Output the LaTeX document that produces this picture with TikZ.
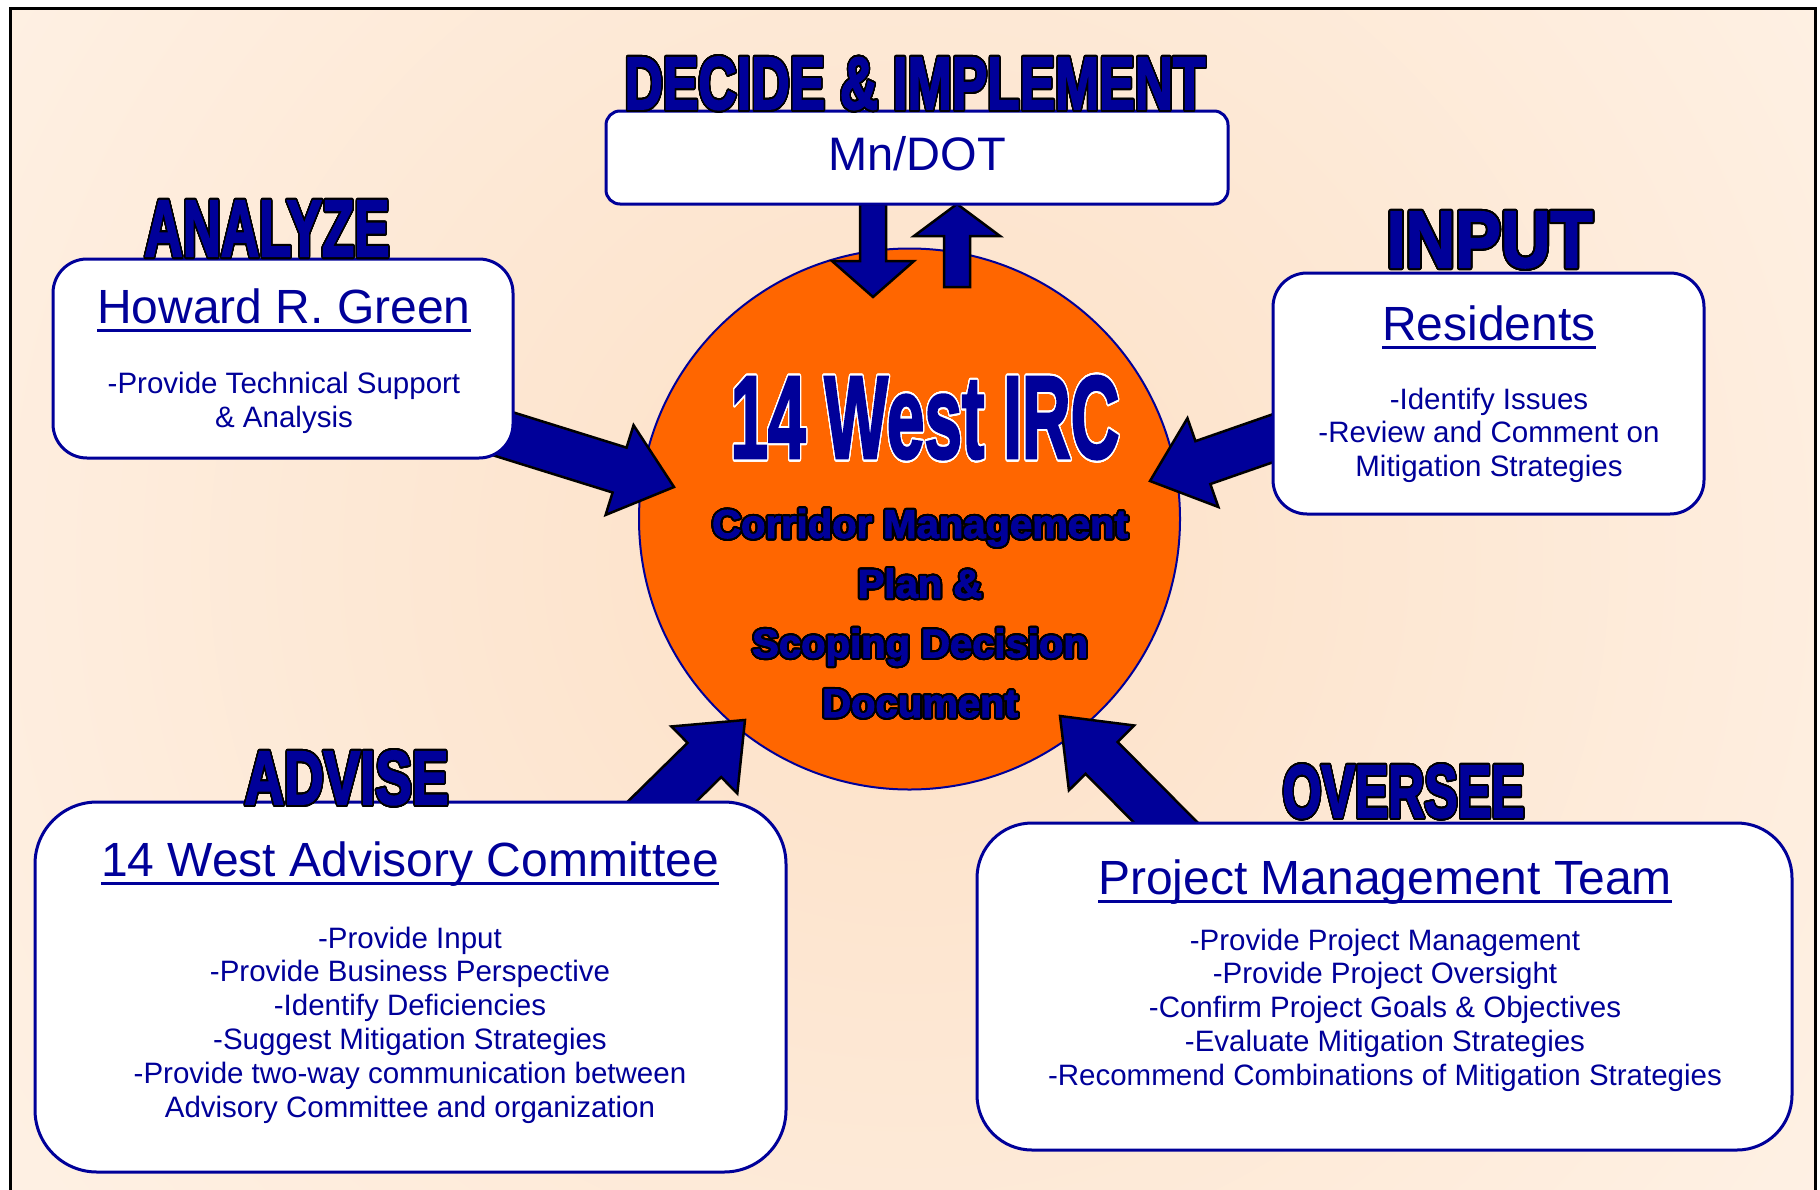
\documentclass[tikz,border=0pt]{standalone}
\usepackage{fontspec}
\setmainfont{Liberation Sans}
\newfontfamily\heavyfont{Liberation Sans Bold}[FakeBold=2.5]
\usepackage[copies]{contour}
\contourlength{2pt}
\contournumber{32}
\usetikzlibrary{calc, positioning}

\definecolor{dotblue}{RGB}{0,0,153}
\definecolor{ircorange}{RGB}{255,102,0}
\definecolor{bgpeach}{RGB}{253,224,198}
\definecolor{bgcream}{RGB}{254,245,236}

\tikzset{
  infobox/.style={
    rectangle, draw=dotblue, line width=3pt, fill=white, inner sep=0pt
  },
  hub/.style={
    circle, draw=dotblue, line width=2pt, fill=ircorange, inner sep=0pt
  },
  bigarrow/.style={
    draw=black, line width=2.5pt, fill=dotblue, line join=miter
  },
  boxtitle/.style={
    text=dotblue, inner sep=0pt, anchor=base, font=\fontsize{48}{56}\selectfont
  },
  boxbody/.style={
    text=dotblue, inner sep=0pt, anchor=base, align=center,
    font=\fontsize{29.5}{33.9}\selectfont
  },
  underbar/.style={draw=dotblue, line width=3pt},
  rolehead/.style={text=dotblue, inner sep=0pt, anchor=base}
}

% heavy outlined heading, squeezed to a given width and height
\newcommand{\rolename}[3]{\resizebox{#1pt}{#2pt}{\fontsize{76}{80}\heavyfont\contour{black}{#3}}}
\newcommand{\inked}[1]{\contour{black}{#1}}
% block arrow: from, tip, shaft half width, head half width, head length
\newcommand{\blockarrow}[5]{%
  \coordinate (hb) at ($(#2)!#5!(#1)$);
  \draw[bigarrow] ($(#1)!#3!90:(#2)$) -- ($(hb)!#3!90:(#2)$) -- ($(hb)!#4!90:(#2)$)
    -- (#2) -- ($(hb)!#4!-90:(#2)$) -- ($(hb)!#3!-90:(#2)$) -- ($(#1)!#3!-90:(#2)$) -- cycle;
}

\begin{document}
\begin{tikzpicture}[x=1pt, y=-1pt]
\useasboundingbox (0,0) rectangle (1820,1189);

% background and frame
\begin{scope}
  \clip (10,8) rectangle (1815,1200);
  \shade[inner color=bgpeach, outer color=bgcream] (909,560) circle (1400pt);
\end{scope}
\draw[line width=3pt] (10,8) rectangle (1815,1200);

\node[hub, minimum size=541pt] (irc) at (909.5,519) {};

% arrow ends
\coordinate (dot out) at (873,204);
\coordinate (dot out tip) at (873,297);
\coordinate (dot in) at (957,287);
\coordinate (dot in tip) at (957,204);
\coordinate (green out) at (469.7,423.4);
\coordinate (green tip) at (674,487);
\coordinate (res out) at (1300,428.8);
\coordinate (res tip) at (1150,481);
\coordinate (adv out) at (628,835);
\coordinate (adv tip) at (745,720);
\coordinate (pmt out) at (1195,852);
\coordinate (pmt tip) at (1060,716);

\blockarrow{dot out}{dot out tip}{13pt}{41pt}{36pt}
\blockarrow{dot in}{dot in tip}{13pt}{43pt}{32pt}
\blockarrow{green out}{green tip}{23.5pt}{47pt}{57pt}
\blockarrow{res out}{res tip}{22.7pt}{47pt}{56pt}
\blockarrow{adv out}{adv tip}{24pt}{47pt}{57pt}
\blockarrow{pmt out}{pmt tip}{22.6pt}{46pt}{59pt}

% boxes
\node[infobox, rounded corners=14pt, minimum width=622pt, minimum height=93pt] (mndot) at (917,157.5) {};
\node[infobox, rounded corners=34pt, minimum width=460pt, minimum height=199pt] (green) at (283,358.5) {};
\node[infobox, rounded corners=34pt, minimum width=431pt, minimum height=241pt] (res) at (1488.5,393.5) {};
\node[infobox, rounded corners=62pt, minimum width=751pt, minimum height=370pt] (adv) at (410.5,987) {};
\node[infobox, rounded corners=55pt, minimum width=815pt, minimum height=327pt] (pmt) at (1384.5,986.5) {};

\node[boxtitle, font=\fontsize{47}{52}\selectfont] (mndot label) at (917,170) {Mn/DOT};

% multi-line texts sit on the baseline of their last line
\node[boxtitle] (green title) at (284,323) {Howard R. Green};
\node[boxbody] (green body) at (284,427) {-Provide Technical Support\\\& Analysis};

\node[boxtitle] (res title) at (1489,340.5) {Residents};
\node[boxbody] (res body) at (1489,476.8) {-Identify Issues\\-Review and Comment on\\Mitigation Strategies};

\node[boxtitle] (adv title) at (410,876.5) {14 West Advisory Committee};
\node[boxbody] (adv body) at (410,1117.5) {-Provide Input\\-Provide Business Perspective\\-Identify Deficiencies\\-Suggest Mitigation Strategies\\-Provide two-way communication between\\Advisory Committee and organization};

\node[boxtitle] (pmt title) at (1385,894) {Project Management Team};
\node[boxbody] (pmt body) at (1385,1085.6) {-Provide Project Management\\-Provide Project Oversight\\-Confirm Project Goals \& Objectives\\-Evaluate Mitigation Strategies\\-Recommend Combinations of Mitigation Strategies};

\foreach \t in {green title, res title, adv title, pmt title}
  \draw[underbar] ([yshift=-7pt]\t.base west) -- ([yshift=-7pt]\t.base east);

% centre texts
\node[rolehead] (irc name) at (925,458)
  {\resizebox{389pt}{82pt}{\fontsize{115}{120}\heavyfont\contourlength{2pt}\contour{white}{14 West IRC}}};
\node[rolehead, align=center, font=\fontsize{40}{59.7}\heavyfont] (irc doc) at (920,717)
  {\inked{Corridor Management}\\\inked{Plan \&}\\\inked{Scoping Decision}\\\inked{Document}};

% role headings
\node[rolehead] (decide) at (915,109) {\rolename{581}{52}{DECIDE \& IMPLEMENT}};
\node[rolehead] (analyze) at (267,256) {\rolename{245}{55}{ANALYZE}};
\node[rolehead] (input) at (1489.5,267) {\rolename{206}{55}{INPUT}};
\node[rolehead] (advise) at (346.5,804) {\rolename{204}{53}{ADVISE}};
\node[rolehead] (oversee) at (1403.5,817) {\rolename{242}{52}{OVERSEE}};
\end{tikzpicture}
\end{document}
